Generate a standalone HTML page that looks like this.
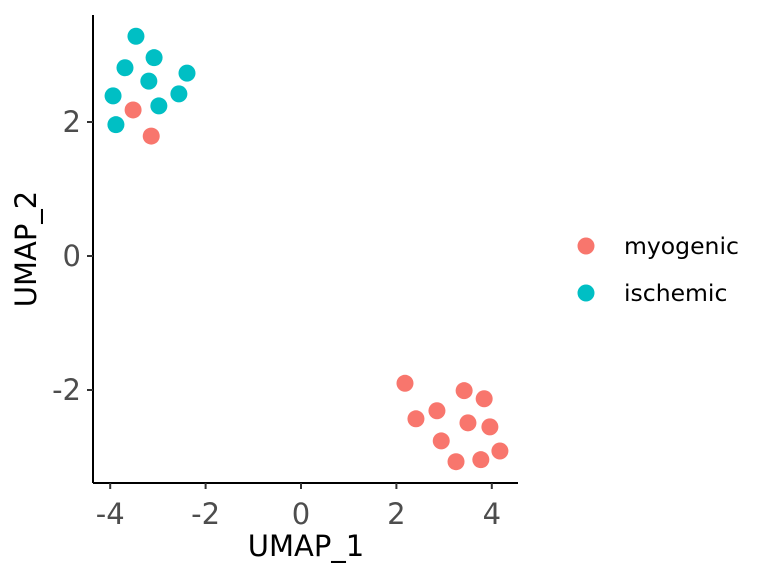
<!DOCTYPE html>
<html><head><meta charset="utf-8"><style>
html,body{margin:0;padding:0;background:#fff;}
svg{display:block;font-family:"DejaVu Sans","Liberation Sans",sans-serif;}
</style></head><body>
<svg id="chart" width="768" height="576" viewBox="0 0 768 576"></svg>
<script>
const groups = ["myogenic", "ischemic"];
const groupColors = ["#F8766D", "#00BFC4"];
const myoX = [-3.52, -3.14, 2.18, 3.42, 3.84, 2.41, 2.85, 3.50, 3.96, 2.94, 4.17, 3.25, 3.77];
const myoY = [2.18, 1.79, -1.90, -2.01, -2.13, -2.43, -2.31, -2.49, -2.55, -2.76, -2.91, -3.07, -3.04];
const ischX = [-3.46, -3.69, -3.08, -3.19, -2.39, -3.94, -2.56, -2.98, -3.88];
const ischY = [3.28, 2.81, 2.96, 2.61, 2.73, 2.39, 2.42, 2.24, 1.96];
const xTicks = [-4, -2, 0, 2, 4];
const yTicks = [-2, 0, 2];
const xTickLabels = ["-4", "-2", "0", "2", "4"];
const yTickLabels = ["-2", "0", "2"];

const NS = "http://www.w3.org/2000/svg";
const svg = document.getElementById("chart");
function sx(v){ return 301 + v * 47.7; }
function sy(v){ return 256 - v * 67; }
function mk(tag, attrs, parent){
  const e = document.createElementNS(NS, tag);
  for (const k in attrs) e.setAttribute(k, attrs[k]);
  (parent || svg).appendChild(e);
  return e;
}
let e = mk("line", {x1:93, y1:15, x2:93, y2:483, stroke:"#000", "stroke-width":2});


e = mk("line", {x1:93, y1:483, x2:518, y2:483, stroke:"#000", "stroke-width":2});



xTicks.forEach((t, i) => {
  const tk = mk("line", {x1:sx(t), x2:sx(t), y1:483, y2:489, stroke:"#333", "stroke-width":2});
  
  
  const tx = mk("text", {x:sx(t), y:524, "text-anchor":"middle", "font-size":29, fill:"#4d4d4d"});
  tx.textContent = xTickLabels[i];
  
  
});
yTicks.forEach((t, i) => {
  const tk = mk("line", {x1:87, x2:93, y1:sy(t), y2:sy(t), stroke:"#333", "stroke-width":2});
  
  
  const tx = mk("text", {x:81, y:sy(t)+10, "text-anchor":"end", "font-size":29, fill:"#4d4d4d"});
  tx.textContent = yTickLabels[i];
  
  
});

e = mk("text", {x:306, y:556, "text-anchor":"middle", "font-size":29, fill:"#000"});
e.textContent = "UMAP_1";


e = mk("text", {x:0, y:0, "text-anchor":"middle", "font-size":29, fill:"#000", transform:"translate(36,249) rotate(-90)"});
e.textContent = "UMAP_2";



function drawSeries(xs, ys, color, name){
  xs.forEach((x, i) => {
    const c = mk("circle", {cx:sx(x), cy:sy(ys[i]), r:8.5, fill:color});
    
    
  });
}
drawSeries(myoX, myoY, groupColors[0], "point-myogenic");
drawSeries(ischX, ischY, groupColors[1], "point-ischemic");

groups.forEach((g, i) => {
  const y = 246 + i * 47;
  const c = mk("circle", {cx:586, cy:y, r:8.5, fill:groupColors[i]});
  
  
  const t = mk("text", {x:624, y:y+8, "font-size":23.5, fill:"#000"});
  t.textContent = g;
  
  
});
</script>
</body></html>
